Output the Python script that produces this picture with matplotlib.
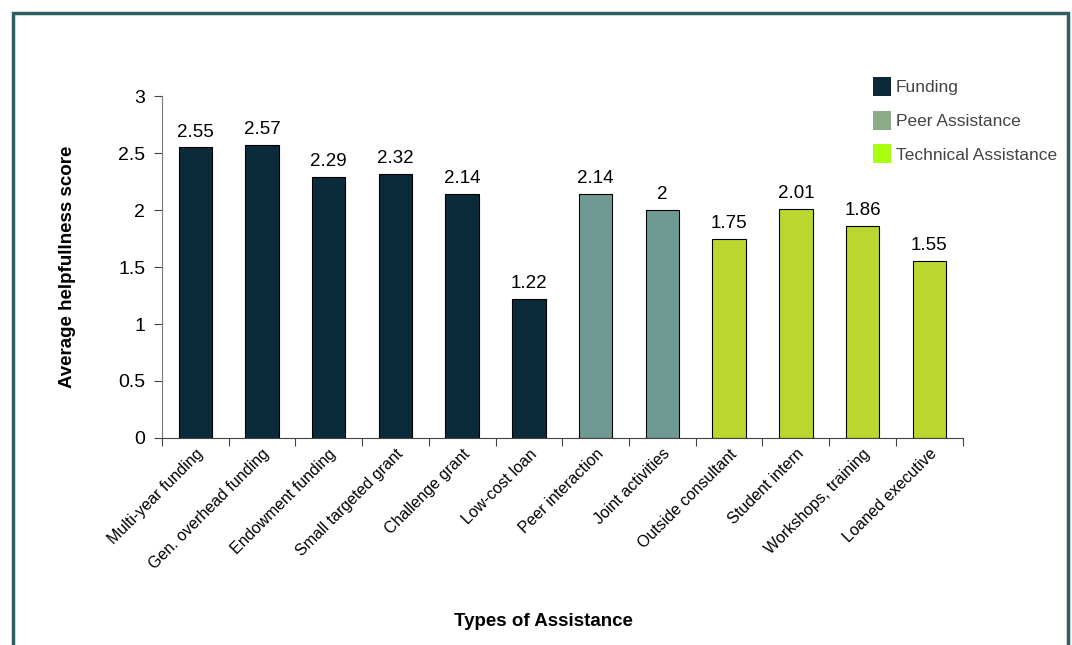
import matplotlib

matplotlib.use("Agg")
import matplotlib.pyplot as plt
from matplotlib.patches import Patch, Rectangle

plt.rcParams["font.family"] = ["Liberation Sans", "DejaVu Sans"]

categories = ["Multi-year funding", "Gen. overhead funding", "Endowment funding",
              "Small targeted grant", "Challenge grant", "Low-cost loan",
              "Peer interaction", "Joint activities", "Outside consultant",
              "Student intern", "Workshops, training", "Loaned executive"]
scores = [2.55, 2.57, 2.29, 2.32, 2.14, 1.22, 2.14, 2, 1.75, 2.01, 1.86, 1.55]
groups = ["Funding"] * 6 + ["Peer Assistance"] * 2 + ["Technical Assistance"] * 4
value_labels = ["2.55", "2.57", "2.29", "2.32", "2.14", "1.22",
                "2.14", "2", "1.75", "2.01", "1.86", "1.55"]

BAR_COLORS = {"Funding": "#0B2A3A", "Peer Assistance": "#6F9A94",
              "Technical Assistance": "#BCD630"}
LEGEND_COLORS = {"Funding": "#0B2836", "Peer Assistance": "#8AAA88",
                 "Technical Assistance": "#AAFF11"}

fig = plt.figure(figsize=(10.72, 6.45), dpi=100)
ax = fig.add_axes([0.151, 0.321, 0.747, 0.530])

x = range(len(categories))
ax.bar(x, scores, width=0.5, color=[BAR_COLORS[g] for g in groups],
       edgecolor="black", linewidth=0.8, zorder=2)
for i, (v, t) in enumerate(zip(scores, value_labels)):
    ax.text(i, v + 0.06, t, ha="center", va="bottom", fontsize=13.5)

ax.set_xlim(-0.5, len(categories) - 0.5)
ax.set_ylim(0, 3)
ax.set_yticks([0, 0.5, 1, 1.5, 2, 2.5, 3])
ax.set_yticklabels(["0", "0.5", "1", "1.5", "2", "2.5", "3"], fontsize=14)
ax.set_xticks([i + 0.5 for i in range(-1, len(categories))], minor=False)
ax.set_xticklabels([])
ax.set_xticks(list(x), minor=True)
ax.set_xticklabels(categories, minor=True, rotation=45, ha="right",
                   rotation_mode="anchor", fontsize=11.5)
ax.tick_params(axis="x", which="minor", length=0, pad=6)
ax.tick_params(axis="x", which="major", length=6, direction="out", color="#444444")
ax.tick_params(axis="y", length=6, direction="out", color="#444444", pad=6)
for s in ("top", "right"):
    ax.spines[s].set_visible(False)
ax.spines["left"].set_color("#777777")
ax.spines["bottom"].set_color("#444444")

ax.set_ylabel("Average helpfullness score", fontsize=13.5, fontweight="bold", labelpad=30)
fig.text(0.507, 0.037, "Types of Assistance", ha="center", va="center",
         fontsize=13.5, fontweight="bold")

handles = [Patch(facecolor=LEGEND_COLORS[g], edgecolor="none", label=g)
           for g in ["Funding", "Peer Assistance", "Technical Assistance"]]
fig.legend(handles=handles, loc="upper left", bbox_to_anchor=(0.800, 0.905),
           frameon=False, fontsize=12.5, handlelength=1.0, handleheight=1.3,
           handletextpad=0.3, labelspacing=0.85, labelcolor="#444444")

fig.patches.append(Rectangle((13 / 1072, -0.05), 1055 / 1072, 1.05 - 13 / 645,
                             transform=fig.transFigure, fill=False,
                             edgecolor="#2F5F62", linewidth=2.5))

fig.savefig("out.png", dpi=100)
